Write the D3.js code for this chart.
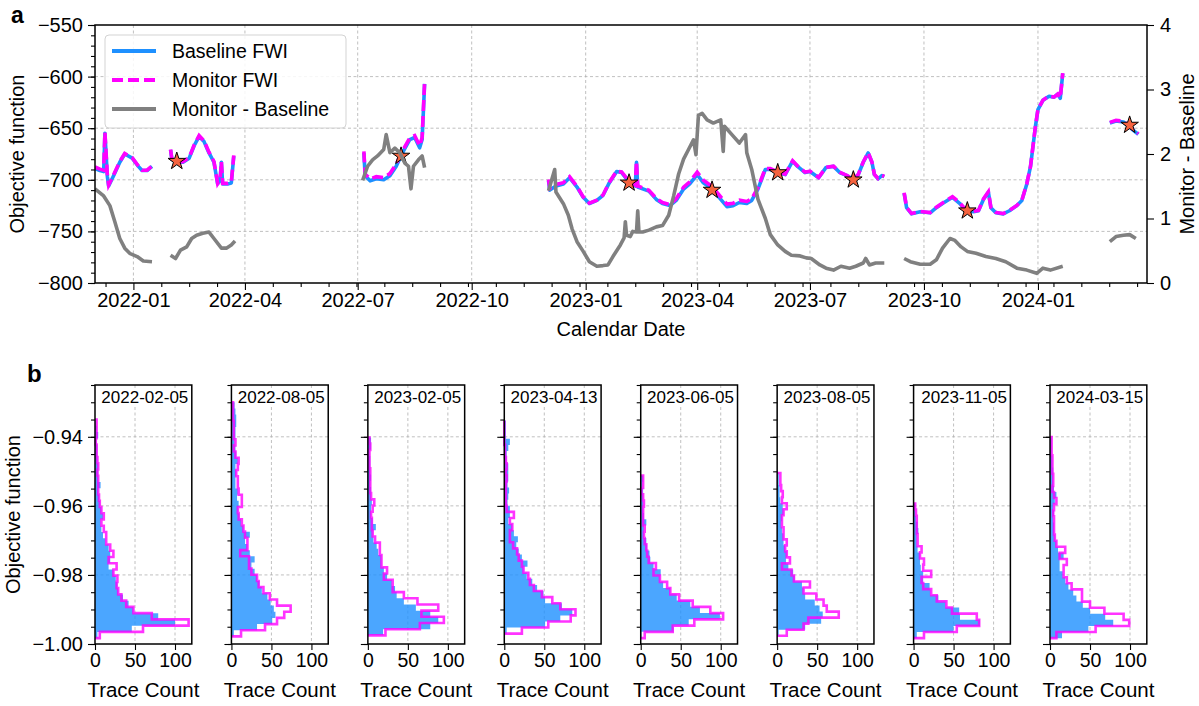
<!DOCTYPE html>
<html>
<head>
<meta charset="utf-8">
<script src="https://cdn.jsdelivr.net/npm/d3@7"></script>
<style>
  body { margin: 0; background: #fff; }
  text { font-family: "Liberation Sans", Arial, Helvetica, sans-serif; fill: #000; }
</style>
</head>
<body>
<div id="chart"></div>
<script>
// ---------- panel a : time series (null = gap in acquisition) ----------
var fwiDates = [
  "2021-12-01","2021-12-05","2021-12-08","2021-12-09","2021-12-11","2021-12-12","2021-12-16","2021-12-21","2021-12-25","2021-12-31","2022-01-05","2022-01-08","2022-01-12","2022-01-16",
  null,
  "2022-01-31","2022-02-01","2022-02-05","2022-02-10","2022-02-15","2022-02-19","2022-02-23","2022-02-27","2022-03-03","2022-03-07","2022-03-08","2022-03-10","2022-03-12","2022-03-13","2022-03-14","2022-03-18","2022-03-21","2022-03-23",
  null,
  "2022-07-06","2022-07-07","2022-07-11","2022-07-16","2022-07-22","2022-07-27","2022-08-01","2022-08-07","2022-08-12","2022-08-16","2022-08-20","2022-08-22","2022-08-24",
  null,
  "2022-12-02","2022-12-03","2022-12-08","2022-12-14","2022-12-19","2022-12-25","2022-12-30","2023-01-04","2023-01-10","2023-01-15","2023-01-20","2023-01-26","2023-01-30","2023-02-03","2023-02-06","2023-02-10","2023-02-11","2023-02-12","2023-02-21","2023-02-27",
  "2023-03-04","2023-03-10","2023-03-15","2023-03-21","2023-03-26","2023-04-01","2023-04-06","2023-04-13","2023-04-20","2023-04-25","2023-04-30","2023-05-05","2023-05-11","2023-05-15","2023-05-20","2023-05-26","2023-05-30",
  "2023-06-05","2023-06-11","2023-06-17","2023-06-21","2023-06-27","2023-07-01","2023-07-08","2023-07-14","2023-07-20","2023-07-25","2023-07-31","2023-08-05","2023-08-09","2023-08-13","2023-08-17","2023-08-20","2023-08-22","2023-08-25","2023-08-28","2023-08-30",
  null,
  "2023-09-15","2023-09-17","2023-09-21","2023-09-28","2023-10-06","2023-10-11","2023-10-16","2023-10-24","2023-10-30","2023-11-04","2023-11-10","2023-11-14","2023-11-18","2023-11-22","2023-11-24","2023-11-28","2023-12-04","2023-12-09","2023-12-15","2023-12-19","2023-12-23","2023-12-26","2023-12-30","2024-01-01","2024-01-05","2024-01-10","2024-01-14","2024-01-17","2024-01-19","2024-01-21",
  null,
  "2024-02-28","2024-03-04","2024-03-10","2024-03-14","2024-03-18","2024-03-22"
];
var baselineFWI = [
  -689,-691,-692,-655,-697,-706,-696,-683,-675,-679,-687,-691,-691,-687,
  null,
  -671,-680,-683,-683,-679,-667,-658,-663,-674,-683,-690,-704,-700,-683,-704,-704,-703,-677,
  null,
  -674,-696,-701,-699,-700,-696,-687,-672,-661,-659,-669,-661,-607,
  null,
  -701,-710,-706,-704,-698,-707,-717,-723,-720,-715,-703,-692,-693,-699,-703,-706,-683,-707,-711,-719,
  -723,-725,-720,-709,-704,-695,-703,-709,-719,-726,-725,-722,-723,-720,-709,-690,-690,
  -693,-695,-682,-687,-693,-692,-698,-688,-687,-693,-696,-700,-695,-683,-674,-683,-695,-699,-696,-697,
  null,
  -713,-727,-733,-731,-732,-727,-723,-717,-723,-730,-731,-730,-719,-712,-727,-732,-733,-730,-725,-720,-704,-687,-648,-632,-623,-619,-620,-617,-621,-597,
  null,
  -645,-643,-644,-648,-652,-656
];
var monitorFWI = [
  -687.6,-689.7,-690.7,-653.7,-695.9,-705.0,-695.1,-682.3,-674.5,-678.5,-686.6,-690.7,-690.7,-686.7,
  null,
  -670.6,-679.6,-682.6,-682.5,-678.4,-666.3,-657.2,-662.2,-673.2,-682.3,-689.4,-703.5,-699.5,-682.5,-703.5,-703.5,-702.4,-676.4,
  null,
  -672.4,-694.3,-699.1,-697.0,-697.9,-694.0,-684.9,-670.1,-659.4,-657.2,-667.1,-659.0,-605.2,
  null,
  -699.6,-708.4,-704.6,-702.8,-697.0,-706.4,-716.5,-722.7,-719.7,-714.7,-702.7,-691.5,-692.4,-698.3,-702.3,-705.2,-682.2,-705.9,-710.2,-718.1,
  -722.1,-723.9,-718.5,-707.1,-701.9,-692.6,-700.4,-706.5,-716.5,-723.6,-722.7,-719.8,-721.0,-718.2,-707.7,-689.0,-689.2,
  -692.4,-694.5,-681.6,-686.6,-692.6,-691.6,-697.7,-687.8,-686.8,-692.7,-695.8,-699.8,-694.7,-682.7,-673.7,-682.7,-694.7,-698.7,-695.7,-696.7,
  null,
  -712.6,-726.7,-732.7,-730.7,-731.7,-726.6,-722.5,-716.3,-722.4,-729.5,-730.5,-729.6,-718.6,-711.6,-726.6,-731.6,-732.7,-729.7,-724.8,-719.8,-703.8,-686.8,-647.8,-631.8,-622.8,-618.8,-619.8,-616.8,-620.8,-596.7,
  null,
  -644.4,-642.3,-643.3,-647.3,-651.3,-655.3
];
var diffDates = [
  "2021-12-01","2021-12-08","2021-12-13","2021-12-17","2021-12-21","2021-12-25","2021-12-29","2022-01-04","2022-01-09","2022-01-16",
  null,
  "2022-01-31","2022-02-04","2022-02-08","2022-02-13","2022-02-17","2022-02-21","2022-02-26","2022-03-03","2022-03-07","2022-03-13","2022-03-17","2022-03-21","2022-03-24",
  null,
  "2022-07-05","2022-07-09","2022-07-13","2022-07-17","2022-07-22","2022-07-24","2022-07-27","2022-07-31","2022-08-04","2022-08-08","2022-08-11","2022-08-13","2022-08-15","2022-08-19","2022-08-22","2022-08-24",
  null,
  "2022-12-02","2022-12-07","2022-12-08","2022-12-14","2022-12-18","2022-12-21","2022-12-25","2022-12-30","2023-01-04","2023-01-10","2023-01-15","2023-01-19","2023-01-23","2023-01-29","2023-02-01","2023-02-02","2023-02-03","2023-02-06","2023-02-08","2023-02-11","2023-02-12","2023-02-13","2023-02-16","2023-02-21","2023-02-27",
  "2023-03-04","2023-03-09","2023-03-13","2023-03-17","2023-03-21","2023-03-25","2023-03-29","2023-03-31","2023-04-02","2023-04-05","2023-04-09","2023-04-14","2023-04-20","2023-04-22","2023-04-23","2023-04-29","2023-05-05","2023-05-10","2023-05-11","2023-05-15","2023-05-20","2023-05-26","2023-05-30",
  "2023-06-05","2023-06-11","2023-06-16","2023-06-23","2023-06-28","2023-07-02","2023-07-09","2023-07-14","2023-07-20","2023-07-26","2023-08-02","2023-08-07","2023-08-13","2023-08-15","2023-08-18","2023-08-23","2023-08-30",
  null,
  "2023-09-15","2023-09-20","2023-09-28","2023-10-06","2023-10-11","2023-10-16","2023-10-22","2023-10-26","2023-10-31","2023-11-05","2023-11-12","2023-11-20","2023-11-28","2023-12-06","2023-12-15","2023-12-23","2023-12-31","2024-01-05","2024-01-11","2024-01-21",
  null,
  "2024-02-28","2024-03-04","2024-03-10","2024-03-15","2024-03-20"
];
var diffValues = [
  1.46,1.35,1.20,0.95,0.69,0.54,0.46,0.41,0.34,0.33,
  null,
  0.43,0.38,0.51,0.56,0.69,0.74,0.77,0.79,0.69,0.54,0.54,0.59,0.65,
  null,
  1.59,1.81,1.91,1.97,2.07,2.30,2.02,2.09,2.02,1.86,1.81,1.46,1.81,1.91,1.97,1.79,
  null,
  1.43,1.76,1.41,1.23,1.05,0.84,0.64,0.49,0.33,0.26,0.27,0.28,0.41,0.59,0.70,0.95,0.74,0.72,0.80,0.79,1.12,0.79,0.79,0.82,0.87,
  0.89,1.05,1.35,1.69,1.92,2.07,2.22,1.99,2.60,2.63,2.53,2.48,2.53,2.04,2.43,2.30,2.17,2.30,2.02,1.76,1.30,1.00,0.75,
  0.59,0.49,0.43,0.42,0.39,0.38,0.28,0.23,0.20,0.26,0.23,0.26,0.31,0.38,0.28,0.31,0.31,
  null,
  0.38,0.33,0.29,0.29,0.36,0.54,0.69,0.66,0.56,0.49,0.46,0.41,0.38,0.33,0.23,0.20,0.15,0.23,0.20,0.26,
  null,
  0.64,0.72,0.74,0.75,0.69
];
var starDates = ["2022-02-05","2022-08-05","2023-02-05","2023-04-13","2023-06-05","2023-08-05","2023-11-05","2024-03-15"];
var starValues = [-682, -677, -703, -710, -693, -700, -730, -647];
var xTickDates = ["2022-01-01","2022-04-01","2022-07-01","2022-10-01","2023-01-01","2023-04-01","2023-07-01","2023-10-01","2024-01-01"];
var leftTicks = [-800, -750, -700, -650, -600, -550];
var rightTicks = [0, 1, 2, 3, 4];

// ---------- panel b : histograms of the objective function per date ----------
var histLabels = ["2022-02-05","2022-08-05","2023-02-05","2023-04-13","2023-06-05","2023-08-05","2023-11-05","2024-03-15"];
var histLo = [-0.9983, -0.9978, -0.9975, -0.9970, -0.9983, -0.9976, -0.9983, -0.9983];
var histHi = [-0.9350, -0.9300, -0.9402, -0.9353, -0.9512, -0.9505, -0.9593, -0.9401];
var baselineCounts = [
  [3,46,100,79,48,42,35,29,28,26,23,17,19,19,17,13,10,8,7,10,8,6,5,4,7,4,4,4,3,3,3,2,4,2,1],
  [3,32,51,55,53,49,45,38,35,32,29,25,29,23,20,17,23,15,12,10,8,9,7,8,5,5,6,5,8,6,5,4,5,5,6,6,5,4],
  [19,78,88,78,60,45,36,34,30,24,20,17,17,13,11,7,6,10,6,4,4,5,4,4,3,4,3,3,3,2,4,4],
  [3,51,70,85,72,51,49,41,35,28,24,29,22,18,15,17,12,10,5,7,7,4,5,6,4,5,5,5,3,3,5,7,2,2,2],
  [1,41,60,99,74,62,45,37,28,24,25,16,12,11,8,7,4,4,7,4,3,3,3,3,2,3],
  [2,35,55,57,53,47,35,33,31,22,20,14,11,12,10,8,8,6,5,6,8,7,4,3,3,2,2],
  [4,50,83,58,57,40,31,21,20,12,12,9,8,8,5,4,4,6,5,3,2,2],
  [15,48,79,69,50,41,33,29,23,19,16,12,12,17,10,8,6,5,5,4,5,4,6,8,5,4,4,4,3,3,2,2,2]
];
var monitorCounts = [
  [6,60,117,71,48,39,33,29,27,28,23,27,17,23,19,14,14,11,8,11,8,6,5,4,4,4,3,4,3,2,2,1,2,2,2],
  [12,42,57,66,74,57,48,40,34,32,25,22,22,11,20,20,17,15,13,9,8,13,13,9,8,8,6,8,9,5,3,5,3,3,3,2,2,2],
  [22,65,95,67,88,62,45,31,31,20,24,17,17,15,15,9,6,5,5,4,6,8,4,3,3,3,3,2,2,2,3,2],
  [22,55,83,89,70,60,47,37,32,30,24,22,18,16,11,7,7,10,7,12,3,2,2,2,2,3,2,3,2,1,1,0,0,0,0],
  [5,40,67,103,87,65,48,37,33,24,16,19,10,8,7,5,4,5,3,3,3,4,3,1,3,3],
  [12,33,39,77,62,58,49,33,41,21,18,6,16,12,10,12,8,8,6,6,8,12,6,7,5,4,4],
  [13,54,82,79,48,41,29,22,12,10,22,12,13,8,10,5,5,4,4,4,3,2],
  [8,57,99,92,68,50,40,40,27,21,17,17,21,12,19,8,6,5,5,5,4,5,8,5,3,4,4,3,3,3,2,2,2]
];
var histYTicks = [-1.00, -0.98, -0.96, -0.94];
var histXTicks = [0, 50, 100];

// ---------- drawing ----------
var W = 1199, H = 706;
var BLUE = "#1e90ff", MAGENTA = "#ff00ff", GREY = "#808080";
var TICK_FS = 20, LABEL_FS = 20;
var parse = d3.timeParse("%Y-%m-%d");

var svg = d3.select("#chart").append("svg")
  .attr("width", W).attr("height", H)
  .attr("viewBox", "0 0 " + W + " " + H);

function gridStyle(sel) {
  sel.attr("stroke", "#b0b0b0").attr("stroke-width", 0.8).attr("stroke-dasharray", "3,2.5");
}
function cleanAxis(g, size) {
  g.select(".domain").remove();
  g.selectAll(".tick line").attr("stroke", "#000").attr("stroke-width", 1.1);
  g.selectAll(".tick text").style("font-size", size + "px");
}

// ===== panel a =====
var a = { left: 95, right: 1147, top: 25, bottom: 283 };
var x = d3.scaleTime().domain([parse("2021-12-01"), parse("2024-03-29")]).range([a.left, a.right]);
var yL = d3.scaleLinear().domain([-800, -550]).range([a.bottom, a.top]);
var yR = d3.scaleLinear().domain([0, 4]).range([a.bottom, a.top]);

var majors = xTickDates.map(parse);
// minor ticks: a quarter of the first major step, as matplotlib's AutoMinorLocator does
var minorStep = (majors[1] - majors[0]) / 4;
var minors = [];
for (var t = +majors[0] - 2 * minorStep; t < +x.domain()[1]; t += minorStep) {
  if (t > +x.domain()[0] && !majors.some(function (m) { return Math.abs(+m - t) < 3600e3; })) minors.push(new Date(t));
}

var ga = svg.append("g");
ga.selectAll(".hg").data(leftTicks.slice(1, -1)).enter().append("line")
  .attr("x1", a.left).attr("x2", a.right).attr("y1", yL).attr("y2", yL).call(gridStyle);
ga.selectAll(".vg").data(majors).enter().append("line")
  .attr("y1", a.top).attr("y2", a.bottom).attr("x1", x).attr("x2", x).call(gridStyle);

var fwiRows = fwiDates.map(function (d, i) {
  return { date: d ? parse(d) : null, b: baselineFWI[i], m: monitorFWI[i] };
});
var diffRows = diffDates.map(function (d, i) {
  return { date: d ? parse(d) : null, v: diffValues[i] };
});

svg.append("clipPath").attr("id", "clipA").append("rect")
  .attr("x", a.left).attr("y", a.top).attr("width", a.right - a.left).attr("height", a.bottom - a.top);

var plotA = ga.append("g").attr("clip-path", "url(#clipA)");
var lineB = d3.line().defined(function (d) { return d.date !== null; })
  .x(function (d) { return x(d.date); }).y(function (d) { return yL(d.b); });
var lineM = d3.line().defined(function (d) { return d.date !== null; })
  .x(function (d) { return x(d.date); }).y(function (d) { return yL(d.m); });
var lineD = d3.line().defined(function (d) { return d.date !== null; })
  .x(function (d) { return x(d.date); }).y(function (d) { return yR(d.v); });

plotA.append("path").datum(fwiRows).attr("d", lineB)
  .attr("fill", "none").attr("stroke", BLUE).attr("stroke-width", 3.6).attr("stroke-linejoin", "round");
plotA.append("path").datum(fwiRows).attr("d", lineM)
  .attr("fill", "none").attr("stroke", MAGENTA).attr("stroke-width", 3.6).attr("stroke-dasharray", "11,5");

var star = d3.symbol().type(d3.symbolStar).size(95);
plotA.selectAll(".star").data(starDates).enter().append("path")
  .attr("d", star)
  .attr("transform", function (d, i) { return "translate(" + x(parse(d)) + "," + yL(starValues[i]) + ")"; })
  .attr("fill", "#f5633f").attr("stroke", "#000").attr("stroke-width", 1);

plotA.append("path").datum(diffRows).attr("d", lineD)
  .attr("fill", "none").attr("stroke", GREY).attr("stroke-width", 3.6).attr("stroke-linejoin", "round");

// axes
ga.append("g").attr("transform", "translate(" + a.left + ",0)")
  .call(d3.axisLeft(yL).tickValues(d3.range(-800, -549, 10)).tickSize(4).tickFormat(""))
  .call(cleanAxis, TICK_FS);
ga.append("g").attr("transform", "translate(" + a.left + ",0)")
  .call(d3.axisLeft(yL).tickValues(leftTicks).tickSize(7).tickPadding(5))
  .call(cleanAxis, TICK_FS);
ga.append("g").attr("transform", "translate(" + a.right + ",0)")
  .call(d3.axisRight(yR).tickValues(rightTicks).tickSize(7).tickPadding(6).tickFormat(d3.format("d")))
  .call(cleanAxis, TICK_FS);
ga.append("g").attr("transform", "translate(0," + a.bottom + ")")
  .call(d3.axisBottom(x).tickValues(minors).tickSize(4).tickFormat(""))
  .call(cleanAxis, TICK_FS);
ga.append("g").attr("transform", "translate(0," + a.bottom + ")")
  .call(d3.axisBottom(x).tickValues(majors).tickSize(7).tickPadding(3).tickFormat(d3.timeFormat("%Y-%m")))
  .call(cleanAxis, TICK_FS);

ga.append("rect").attr("x", a.left).attr("y", a.top)
  .attr("width", a.right - a.left).attr("height", a.bottom - a.top)
  .attr("fill", "none").attr("stroke", "#000").attr("stroke-width", 1.5);

ga.append("text").attr("transform", "translate(24," + (a.top + a.bottom) / 2 + ") rotate(-90)")
  .attr("text-anchor", "middle").style("font-size", LABEL_FS + "px").text("Objective function");
ga.append("text").attr("transform", "translate(1194," + (a.top + a.bottom) / 2 + ") rotate(-90)")
  .attr("text-anchor", "middle").style("font-size", LABEL_FS + "px").text("Monitor - Baseline");
ga.append("text").attr("x", (a.left + a.right) / 2).attr("y", 336)
  .attr("text-anchor", "middle").style("font-size", LABEL_FS + "px").text("Calendar Date");
ga.append("text").attr("x", 11).attr("y", 23).style("font-size", "23px").style("font-weight", "bold").text("a");

// legend
var legendItems = [
  { label: "Baseline FWI", color: BLUE, dash: null },
  { label: "Monitor FWI", color: MAGENTA, dash: "11,5" },
  { label: "Monitor - Baseline", color: GREY, dash: null }
];
var lg = ga.append("g");
lg.append("rect").attr("x", 105).attr("y", 35).attr("width", 241).attr("height", 93).attr("rx", 4)
  .attr("fill", "#fff").attr("fill-opacity", 0.85).attr("stroke", "#d3d3d3").attr("stroke-width", 1);
legendItems.forEach(function (e, i) {
  var yy = 51 + i * 29;
  lg.append("line").attr("x1", 112).attr("x2", 156).attr("y1", yy).attr("y2", yy)
    .attr("stroke", e.color).attr("stroke-width", 4).attr("stroke-dasharray", e.dash);
  lg.append("text").attr("x", 172).attr("y", yy + 7).style("font-size", "19.5px").text(e.label);
});

// ===== panel b =====
var b = { top: 385, bottom: 644, left0: 95, step: 136.43, width: 96.8 };
var hy = d3.scaleLinear().domain([-1.0, -0.925]).range([b.bottom, b.top]);
svg.append("text").attr("x", 27).attr("y", 382).style("font-size", "24px").style("font-weight", "bold").text("b");
svg.append("text").attr("transform", "translate(20," + (b.top + b.bottom) / 2 + ") rotate(-90)")
  .attr("text-anchor", "middle").style("font-size", LABEL_FS + "px").text("Objective function");

histLabels.forEach(function (lab, p) {
  var left = b.left0 + p * b.step;
  var hx = d3.scaleLinear().domain([0, 121]).range([left, left + b.width]);
  var g = svg.append("g");

  g.selectAll(".hg").data(histYTicks.slice(1)).enter().append("line")
    .attr("x1", left).attr("x2", left + b.width).attr("y1", hy).attr("y2", hy).call(gridStyle);
  g.selectAll(".vg").data(histXTicks.slice(1)).enter().append("line")
    .attr("y1", b.top).attr("y2", b.bottom).attr("x1", hx).attr("x2", hx).call(gridStyle);

  function stepPoints(counts) {
    var n = counts.length, w = (histHi[p] - histLo[p]) / n, pts = [[0, histLo[p]]];
    counts.forEach(function (c, i) {
      pts.push([c, histLo[p] + i * w]);
      pts.push([c, histLo[p] + (i + 1) * w]);
    });
    pts.push([0, histLo[p] + n * w]);
    return pts;
  }
  var stepLine = d3.line().x(function (d) { return hx(d[0]); }).y(function (d) { return hy(d[1]); });

  g.append("path").attr("d", stepLine(stepPoints(baselineCounts[p])) + "Z")
    .attr("fill", BLUE).attr("fill-opacity", 0.8).attr("stroke", "none");
  g.append("path").attr("d", stepLine(stepPoints(monitorCounts[p])))
    .attr("fill", "none").attr("stroke", MAGENTA).attr("stroke-opacity", 0.8).attr("stroke-width", 2.6);

  // y axis ticks (labels only on the first panel)
  g.append("g").attr("transform", "translate(" + left + ",0)")
    .call(d3.axisLeft(hy).tickValues(d3.range(0, 16).map(function (k) { return -1 + k * 0.005; })).tickSize(4).tickFormat(""))
    .call(cleanAxis, TICK_FS);
  g.append("g").attr("transform", "translate(" + left + ",0)")
    .call(d3.axisLeft(hy).tickValues(histYTicks).tickSize(7).tickPadding(5)
      .tickFormat(p === 0 ? d3.format(".2f") : ""))
    .call(cleanAxis, TICK_FS);
  g.append("g").attr("transform", "translate(0," + b.bottom + ")")
    .call(d3.axisBottom(hx).tickValues(histXTicks).tickSize(6).tickPadding(3))
    .call(cleanAxis, 19.5);

  g.append("rect").attr("x", left).attr("y", b.top).attr("width", b.width).attr("height", b.bottom - b.top)
    .attr("fill", "none").attr("stroke", "#000").attr("stroke-width", 1.5);

  var tx = g.append("text").attr("x", left + b.width - 3.5).attr("y", b.top + 18)
    .attr("text-anchor", "end").style("font-size", "17px").text(lab);
  var bb = tx.node().getBBox();
  g.insert("rect", function () { return tx.node(); })
    .attr("x", bb.x - 1).attr("y", bb.y).attr("width", bb.width + 2).attr("height", bb.height)
    .attr("fill", "#fff");

  g.append("text").attr("x", left + b.width / 2).attr("y", 697)
    .attr("text-anchor", "middle").style("font-size", "20.5px").text("Trace Count");
});
</script>
</body>
</html>
